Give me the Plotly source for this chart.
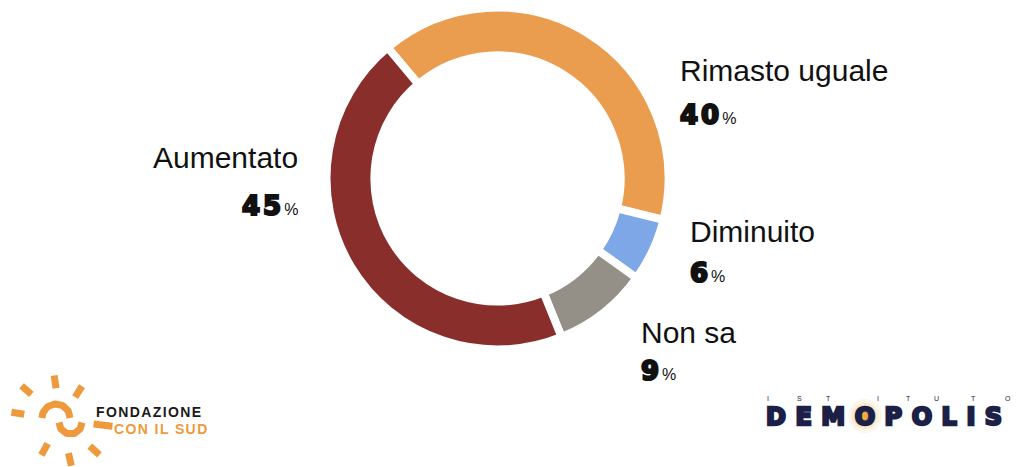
import numpy as np
import plotly.graph_objects as go

W, H = 1016, 467

# Survey answers
categories = ["Rimasto uguale", "Diminuito", "Non sa", "Aumentato"]
values = [40, 6, 9, 45]
colors = ["#EB9D4F", "#7DA7E7", "#959087", "#8A2E2C"]

# Label anchors (pixel space): x, label centre y, value centre y, horizontal anchor
label_x = [679, 689, 640, 299]
label_y = [70, 231, 332, 157]
value_y = [115, 273, 371, 206]
label_anchor = ["left", "left", "left", "right"]

ORANGE = "#EE9A3C"
NAVY = "#1C2046"

fig = go.Figure()

# Donut ring
cx, cy, r_out = 497.5, 178.5, 171.0
fig.add_trace(go.Pie(
    labels=categories,
    values=values,
    sort=False,
    direction="clockwise",
    rotation=-40,
    hole=0.72,
    marker=dict(colors=colors, line=dict(color="white", width=8)),
    textinfo="none",
    hoverinfo="skip",
    showlegend=False,
    domain=dict(x=[(cx - r_out) / W, (cx + r_out) / W],
                y=[1 - (cy + r_out) / H, 1 - (cy - r_out) / H]),
))

# Sun emblem of the foundation logo
sun_c = (60.8, 420.0)
rays = [(-8.5, 32, 45), (32, 27, 40), (97, 33, 52), (132, 39, 52),
        (167, 34, 47), (209, 27, 40), (279, 37, 50), (311, 39, 52)]
for ang, r0, r1 in rays:
    a = np.deg2rad(ang)
    xs = [sun_c[0] + r0 * np.sin(a), sun_c[0] + r1 * np.sin(a)]
    ys = [sun_c[1] - r0 * np.cos(a), sun_c[1] - r1 * np.cos(a)]
    fig.add_trace(go.Scatter(x=xs, y=ys, mode="lines",
                             line=dict(color=ORANGE, width=7),
                             hoverinfo="skip", showlegend=False,
                             xaxis="x", yaxis="y"))
t = np.linspace(0, np.pi, 40)
fig.add_trace(go.Scatter(x=56 + 14 * np.cos(t), y=418 - 14 * np.sin(t),
                         mode="lines", line=dict(color=ORANGE, width=7),
                         hoverinfo="skip", showlegend=False))
fig.add_trace(go.Scatter(x=70.5 - 11.5 * np.cos(t), y=422.5 + 11.5 * np.sin(t),
                         mode="lines", line=dict(color=ORANGE, width=7),
                         hoverinfo="skip", showlegend=False))

annotations = []
for name, v, x, ly, vy, anc in zip(categories, values, label_x, label_y,
                                   value_y, label_anchor):
    annotations.append(dict(
        x=x, y=ly, xref="x", yref="y", xanchor=anc, yanchor="middle",
        text=name, showarrow=False, borderpad=0,
        font=dict(family="Liberation Sans, Arial, sans-serif", size=30,
                  color="#111111")))
    annotations.append(dict(
        x=x, y=vy, xref="x", yref="y", xanchor=anc, yanchor="middle",
        text=(f'<span style="letter-spacing:3px;stroke:#111111;'
              f'stroke-width:2.2px">{v}</span>'
              f'<span style="font-family:Liberation Sans;font-weight:normal;'
              f'font-size:16px;stroke-width:0">%</span>'),
        showarrow=False, borderpad=0,
        font=dict(family="DejaVu Sans", size=26, color="#111111",
                  weight="bold")))

# Foundation wordmark
annotations.append(dict(
    x=95, y=411.5, xref="x", yref="y", xanchor="left", yanchor="middle",
    text='<span style="letter-spacing:1.4px">FONDAZIONE</span>',
    showarrow=False, borderpad=0,
    font=dict(family="Liberation Sans", size=14, color="#1A1A1A", weight="bold")))
annotations.append(dict(
    x=113, y=428.5, xref="x", yref="y", xanchor="left", yanchor="middle",
    text='<span style="letter-spacing:1.4px">CON IL SUD</span>',
    showarrow=False, borderpad=0,
    font=dict(family="Liberation Sans", size=14, color=ORANGE, weight="bold")))

# Institute wordmark
istituto_x = [768, 799, 828, 878, 908, 936, 973, 1008]
for ch, xx in zip("ISTITUTO", istituto_x):
    annotations.append(dict(
        x=xx, y=398.5, xref="x", yref="y", xanchor="center", yanchor="middle",
        text=ch, showarrow=False, borderpad=0,
        font=dict(family="Liberation Sans", size=7, color=NAVY)))
annotations.append(dict(
    x=765, y=417, xref="x", yref="y", xanchor="left", yanchor="middle",
    text=('<span style="letter-spacing:9.5px;stroke:#1C2046;stroke-width:2.4px">'
          'DEMOPOLIS</span>'),
    showarrow=False, borderpad=0,
    font=dict(family="DejaVu Sans", size=24, color=NAVY, weight="bold")))

# Glow inside the "O"
glow_x, glow_y = 865, 416
shapes = []
for rr, op in [(17, 0.10), (13, 0.16), (9, 0.28), (5, 0.85)]:
    shapes.append(dict(type="circle", xref="x", yref="y",
                       x0=glow_x - rr, x1=glow_x + rr,
                       y0=glow_y - rr, y1=glow_y + rr,
                       fillcolor="#E9A33C", opacity=op, line=dict(width=0),
                       layer="below"))

fig.update_layout(
    width=W, height=H,
    margin=dict(l=0, r=0, t=0, b=0),
    paper_bgcolor="white", plot_bgcolor="rgba(0,0,0,0)",
    xaxis=dict(range=[0, W], visible=False, fixedrange=True, domain=[0, 1]),
    yaxis=dict(range=[H, 0], visible=False, fixedrange=True, domain=[0, 1]),
    annotations=annotations,
    shapes=shapes,
)

fig.write_html("out.html", config={"displayModeBar": False})
